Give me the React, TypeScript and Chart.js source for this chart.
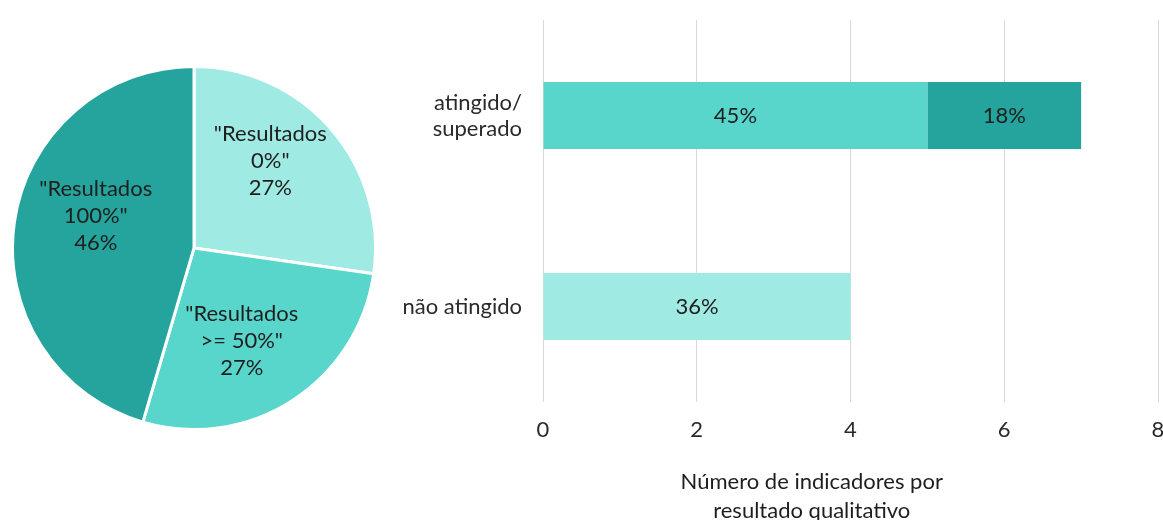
import React, { useEffect, useRef } from "react";
import { Chart, registerables } from "chart.js";

Chart.register(...registerables);

// ---- Pie data ----
const pieCategories: string[][] = [
  ['"Resultados', '0%"'],
  ['"Resultados', '>= 50%"'],
  ['"Resultados', '100%"'],
];
const pieValues: number[] = [3, 3, 5];
const piePercentLabels: string[] = ["27%", "27%", "46%"];

// ---- Bar data ----
const barCategories: (string | string[])[] = [["atingido/", "superado"], "não atingido"];
const barSeriesMedium: (number | null)[] = [5, null];
const barSeriesDark: (number | null)[] = [2, null];
const barSeriesLight: (number | null)[] = [null, 4];
const barLabelsMedium: string[] = ["45%", ""];
const barLabelsDark: string[] = ["18%", ""];
const barLabelsLight: string[] = ["", "36%"];
const xTickValues: number[] = [0, 2, 4, 6, 8];
const xAxisTitle: string[] = ["Número de indicadores por", "resultado qualitativo"];

const LIGHT = "#A0EAE4";
const MEDIUM = "#58D6CC";
const DARK = "#24A49C";
const TEXT = "#1E1E1E";
const FONT = "Lato, 'Noto Sans', sans-serif";
const FS = 22;

export default function App() {
  const pieRef = useRef<HTMLCanvasElement | null>(null);
  const barRef = useRef<HTMLCanvasElement | null>(null);

  useEffect(() => {
    const pieLabelPlugin = {
      id: "pieLabels",
      afterDatasetsDraw(chart: any) {
        const ctx = chart.ctx;
        const meta = chart.getDatasetMeta(0);
        const angleNudge = [-8, 5.5, 10];
        const radiusFrac = [0.64, 0.575, 0.57];
        ctx.save();
        ctx.font = `${FS}px ${FONT}`;
        ctx.fillStyle = TEXT;
        ctx.textAlign = "center";
        ctx.textBaseline = "middle";
        meta.data.forEach((arc: any, i: number) => {
          const p = arc.getProps(["x", "y", "startAngle", "endAngle", "outerRadius"], true);
          const mid = (p.startAngle + p.endAngle) / 2 + (angleNudge[i] * Math.PI) / 180;
          const r = p.outerRadius * radiusFrac[i];
          const cx = p.x + Math.cos(mid) * r;
          const cy = p.y + Math.sin(mid) * r;
          const lines = [...pieCategories[i], piePercentLabels[i]];
          const lh = 27;
          lines.forEach((t, k) => {
            ctx.fillText(t, cx, cy + (k - (lines.length - 1) / 2) * lh);
          });
        });
        ctx.restore();
      },
    };

    const pie = new Chart(pieRef.current!, {
      type: "pie",
      data: {
        labels: pieCategories.map((l) => l.join(" ")),
        datasets: [
          {
            data: pieValues,
            backgroundColor: [LIGHT, MEDIUM, DARK],
            borderColor: "#ffffff",
            borderWidth: 3,
          },
        ],
      },
      options: {
        animation: false,
        responsive: false,
        maintainAspectRatio: false,
        layout: { padding: 0 },
        plugins: { legend: { display: false }, tooltip: { enabled: false } },
      },
      plugins: [pieLabelPlugin],
    } as any);

    const barLabelPlugin = {
      id: "barLabels",
      afterDatasetsDraw(chart: any) {
        const ctx = chart.ctx;
        const labelSets = [barLabelsMedium, barLabelsDark, barLabelsLight];
        ctx.save();
        ctx.font = `${FS}px ${FONT}`;
        ctx.fillStyle = TEXT;
        ctx.textAlign = "center";
        ctx.textBaseline = "middle";
        chart.data.datasets.forEach((_: any, di: number) => {
          const meta = chart.getDatasetMeta(di);
          meta.data.forEach((bar: any, i: number) => {
            const txt = labelSets[di][i];
            if (!txt) return;
            const p = bar.getProps(["x", "y", "base"], true);
            ctx.fillText(txt, (p.x + p.base) / 2, p.y);
          });
        });
        ctx.restore();
      },
    };

    const titlePlugin = {
      id: "xTitle",
      afterDraw(chart: any) {
        const ctx = chart.ctx;
        const a = chart.chartArea;
        const cx = a.left + a.width * 0.437;
        ctx.save();
        ctx.font = `${FS}px ${FONT}`;
        ctx.fillStyle = TEXT;
        ctx.textAlign = "center";
        ctx.textBaseline = "middle";
        xAxisTitle.forEach((t, k) => {
          ctx.fillText(t, cx, a.bottom + 80 + k * 29);
        });
        ctx.restore();
      },
    };

    const common = { barPercentage: 0.35, categoryPercentage: 1, borderWidth: 0 };
    const bar = new Chart(barRef.current!, {
      type: "bar",
      data: {
        labels: barCategories,
        datasets: [
          { data: barSeriesMedium, backgroundColor: MEDIUM, ...common },
          { data: barSeriesDark, backgroundColor: DARK, ...common },
          { data: barSeriesLight, backgroundColor: LIGHT, ...common },
        ],
      },
      options: {
        animation: false,
        responsive: false,
        maintainAspectRatio: false,
        indexAxis: "y",
        layout: { padding: { top: 20, right: 42, bottom: 0, left: 0 } },
        plugins: { legend: { display: false }, tooltip: { enabled: false } },
        scales: {
          x: {
            stacked: true,
            min: 0,
            max: 8,
            afterBuildTicks(scale: any) {
              scale.ticks = xTickValues.map((v) => ({ value: v }));
            },
            afterFit(scale: any) {
              scale.height = 118;
              scale.paddingLeft = 0;
              scale.paddingRight = 0;
            },
            ticks: {
              font: { family: FONT, size: FS },
              color: "#2A2A2A",
              padding: 15,
              maxRotation: 0,
            },
            grid: { color: "#D9D9D9", lineWidth: 1, drawTicks: false },
            border: { display: false },
          },
          y: {
            stacked: true,
            afterFit(scale: any) {
              scale.width = 143;
              scale.paddingTop = 0;
              scale.paddingBottom = 0;
            },
            ticks: {
              font: { family: FONT, size: FS, lineHeight: 1.18 },
              color: "#2A2A2A",
              padding: 21,
            },
            grid: { display: false, drawTicks: false },
            border: { display: false },
          },
        },
      },
      plugins: [barLabelPlugin, titlePlugin],
    } as any);

    return () => {
      pie.destroy();
      bar.destroy();
    };
  }, []);

  return (
    <div
      style={{
        position: "fixed",
        left: 0,
        top: 0,
        width: 1163,
        height: 520,
        overflow: "hidden",
        background: "#ffffff",
      }}
    >
      <canvas
        ref={pieRef}
        width={366}
        height={366}
        style={{ position: "absolute", left: 11, top: 65, width: 366, height: 366 }}
      />
      <canvas
        ref={barRef}
        width={800}
        height={520}
        style={{ position: "absolute", left: 400, top: 0, width: 800, height: 520 }}
      />
    </div>
  );
}
